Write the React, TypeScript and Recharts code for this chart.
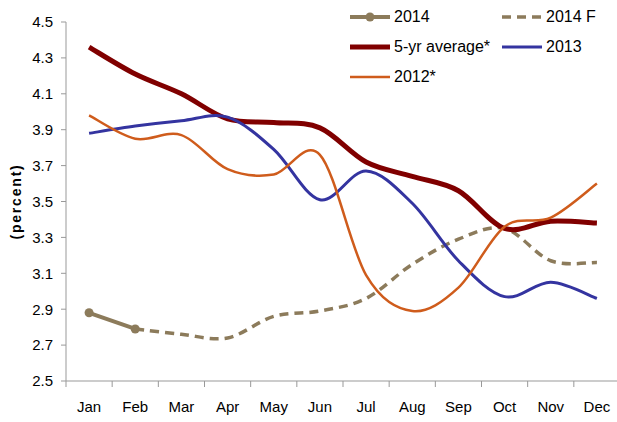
import React from 'react';
import {LineChart, Line, XAxis, YAxis, Legend} from 'recharts';

const months = ['Jan', 'Feb', 'Mar', 'Apr', 'May', 'Jun', 'Jul', 'Aug', 'Sep', 'Oct', 'Nov', 'Dec'];
const avg5 = [4.36, 4.21, 4.1, 3.96, 3.94, 3.91, 3.72, 3.64, 3.56, 3.35, 3.39, 3.38];
const y2013 = [3.88, 3.92, 3.95, 3.97, 3.79, 3.51, 3.67, 3.49, 3.17, 2.97, 3.05, 2.96];
const y2012 = [3.98, 3.85, 3.87, 3.68, 3.65, 3.76, 3.09, 2.89, 3.02, 3.36, 3.41, 3.6];
const y2014 = [2.88, 2.79, null, null, null, null, null, null, null, null, null, null];
const y2014f = [null, 2.79, 2.76, 2.74, 2.86, 2.89, 2.96, 3.15, 3.29, 3.35, 3.17, 3.16];
const yTicks = [2.5, 2.7, 2.9, 3.1, 3.3, 3.5, 3.7, 3.9, 4.1, 4.3, 4.5];

const data = months.map((m, i) => ({
    x: i + 0.5,
    month: m,
    avg5: avg5[i],
    y2013: y2013[i],
    y2012: y2012[i],
    y2014: y2014[i],
    y2014f: y2014f[i],
}));

// tick marks sit between the months, like excel
const bounds = months.map((_, i) => i).concat([12]);

const CHART_W = 620;
const Y_AXIS_W = 66;
const BAND = (CHART_W - Y_AXIS_W) / months.length;

const C_2014 = '#8c7b5b';
const C_AVG = '#800000';
const C_2013 = '#3434a0';
const C_2012 = '#cf5c1c';
const C_AXIS = '#999999';
const FONT = '"Liberation Sans", Arial, sans-serif';

// excel-ish smoothing (catmull-rom through the points)
const smooth = (context: any) => {
    let pts: number[][] = [];
    return {
        areaStart() {},
        areaEnd() {},
        lineStart() { pts = []; },
        point(x: number, y: number) { pts.push([+x, +y]); },
        lineEnd() {
            const n = pts.length;
            if (!n) return;
            context.moveTo(pts[0][0], pts[0][1]);
            if (n === 1) { context.lineTo(pts[0][0], pts[0][1]); return; }
            for (let i = 0; i < n - 1; i++) {
                const p0 = pts[Math.max(i - 1, 0)];
                const p1 = pts[i];
                const p2 = pts[i + 1];
                const p3 = pts[Math.min(i + 2, n - 1)];
                context.bezierCurveTo(
                    p1[0] + (p2[0] - p0[0]) / 6, p1[1] + (p2[1] - p0[1]) / 6,
                    p2[0] - (p3[0] - p1[0]) / 6, p2[1] - (p3[1] - p1[1]) / 6,
                    p2[0], p2[1]
                );
            }
        },
    };
};

// month name centred in the band to the right of each tick mark
const MonthTick = (props: any) => {
    const {x, y, payload} = props;
    const label = months[payload.value];
    if (!label) return null;
    return (
        <text x={x + BAND / 2} y={y} dy="0.71em" textAnchor="middle" fill="#000" fontSize={15} fontFamily={FONT}>
            {label}
        </text>
    );
};

const legendItems = [
    {name: '2014', color: C_2014, w: 4, dash: undefined, dot: true},
    {name: '2014 F', color: C_2014, w: 3.5, dash: '9 6', dot: false},
    {name: '5-yr average*', color: C_AVG, w: 5, dash: undefined, dot: false},
    {name: '2013', color: C_2013, w: 3, dash: undefined, dot: false},
    {name: '2012*', color: C_2012, w: 2.5, dash: undefined, dot: false},
];

const LegendBox = () => (
    <div style={{display: 'grid', gridTemplateColumns: '152px 120px', rowGap: 10, fontFamily: FONT, fontSize: 16, color: '#000'}}>
        {legendItems.map(it => (
            <div key={it.name} style={{display: 'flex', alignItems: 'center', height: 20}}>
                <svg width={44} height={12}>
                    <line x1={2} y1={6} x2={42} y2={6} stroke={it.color} strokeWidth={it.w} strokeDasharray={it.dash}/>
                    {it.dot && <circle cx={22} cy={6} r={4.5} fill={it.color}/>}
                </svg>
                <span style={{marginLeft: 2}}>{it.name}</span>
            </div>
        ))}
    </div>
);

const YLabel = (props: any) => {
    const vb = props.viewBox;
    const cx = vb.x + 16;
    const cy = vb.y + vb.height / 2;
    return (
        <text x={cx} y={cy} transform={`rotate(-90 ${cx} ${cy})`} textAnchor="middle" dominantBaseline="central"
              style={{fontFamily: FONT, fontSize: 14, fontWeight: 'bold', letterSpacing: 1.8}} fill="#000">
            (percent)
        </text>
    );
};

const App = () => {
    return (
        <div style={{position: 'absolute', left: 0, top: 0, width: 617, height: 422, overflow: 'hidden', background: '#fff'}}>
            <LineChart width={CHART_W} height={422} data={data} margin={{top: 22, right: 0, bottom: 0, left: 0}}>
                <XAxis type="number" dataKey="x" domain={[0, 12]} ticks={bounds} interval={0}
                       axisLine={{stroke: C_AXIS}} tickLine={{stroke: C_AXIS}}
                       tickSize={6} tickMargin={14} height={41} tick={<MonthTick/>}/>
                <YAxis type="number" domain={[2.5, 4.5]} ticks={yTicks} interval={0} width={Y_AXIS_W}
                       tickFormatter={(v: number) => v.toFixed(1)} stroke={C_AXIS} tickSize={5} tickMargin={8}
                       tick={{fill: '#000', fontSize: 15, fontFamily: FONT}} label={<YLabel/>}/>
                <Legend layout="vertical" align="center" verticalAlign="middle" content={<LegendBox/>}
                        wrapperStyle={{top: 7, left: 348, width: 280, height: 90}}/>
                <Line dataKey="y2014" type={smooth as any} stroke={C_2014} strokeWidth={4}
                      dot={{r: 4.5, fill: C_2014, stroke: C_2014, strokeWidth: 0}} activeDot={false} isAnimationActive={false}/>
                <Line dataKey="y2014f" type={smooth as any} stroke={C_2014} strokeWidth={3.5}
                      strokeDasharray="9 6" dot={false} activeDot={false} isAnimationActive={false}/>
                <Line dataKey="avg5" type={smooth as any} stroke={C_AVG} strokeWidth={5}
                      dot={false} activeDot={false} isAnimationActive={false}/>
                <Line dataKey="y2013" type={smooth as any} stroke={C_2013} strokeWidth={3}
                      dot={false} activeDot={false} isAnimationActive={false}/>
                <Line dataKey="y2012" type={smooth as any} stroke={C_2012} strokeWidth={2.5}
                      dot={false} activeDot={false} isAnimationActive={false}/>
            </LineChart>
        </div>
    );
};

export default App;
